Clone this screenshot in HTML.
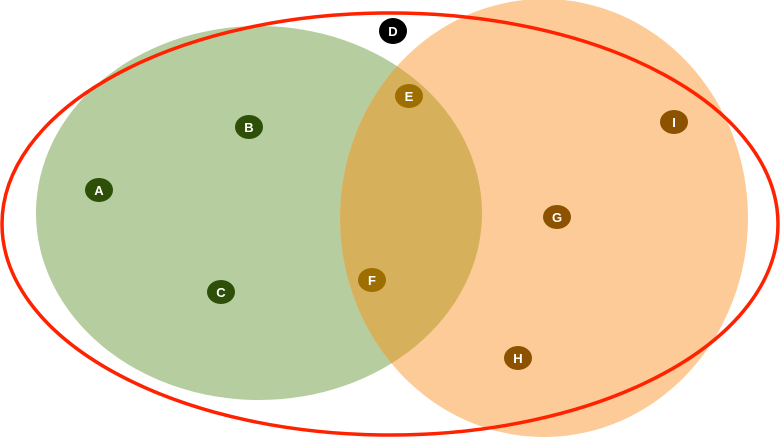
<!DOCTYPE html>
<html><head><style>html,body{margin:0;padding:0;background:#fff;}svg{display:block}</style></head><body>
<svg width="780" height="439" viewBox="0 0 780 439" xmlns="http://www.w3.org/2000/svg">
<defs><clipPath id="cg"><ellipse cx="259" cy="213" rx="223" ry="187"/></clipPath></defs>
<ellipse cx="259" cy="213" rx="223" ry="187" fill="#b6cd9f"/>
<ellipse cx="544" cy="218" rx="204" ry="219" fill="#fdcb98"/>
<ellipse cx="544" cy="218" rx="204" ry="219" fill="#d7b05c" clip-path="url(#cg)"/>
<ellipse cx="390" cy="224" rx="388" ry="211" fill="none" stroke="#ff2200" stroke-width="3.5"/>
<g font-family="Liberation Sans, sans-serif" font-weight="bold" font-size="13" fill="#fff" text-anchor="middle">
<ellipse cx="393" cy="31" rx="14" ry="13" fill="#000"/><text x="393" y="36">D</text>
<ellipse cx="409" cy="96" rx="14" ry="12" fill="#9e6e00"/><text x="409" y="101">E</text>
<ellipse cx="372" cy="280" rx="14" ry="12" fill="#9e6e00"/><text x="372" y="285">F</text>
<ellipse cx="557" cy="217" rx="14" ry="12" fill="#8c5200"/><text x="557" y="222">G</text>
<ellipse cx="518" cy="358" rx="14" ry="12" fill="#8c5200"/><text x="518" y="363">H</text>
<ellipse cx="674" cy="122" rx="14" ry="12" fill="#8c5200"/><text x="674" y="127">I</text>
<ellipse cx="99" cy="190" rx="14" ry="12" fill="#2e4f08"/><text x="99" y="195">A</text>
<ellipse cx="249" cy="127" rx="14" ry="12" fill="#2e4f08"/><text x="249" y="132">B</text>
<ellipse cx="221" cy="292" rx="14" ry="12" fill="#2e4f08"/><text x="221" y="297">C</text>
</g>
</svg>
</body></html>
